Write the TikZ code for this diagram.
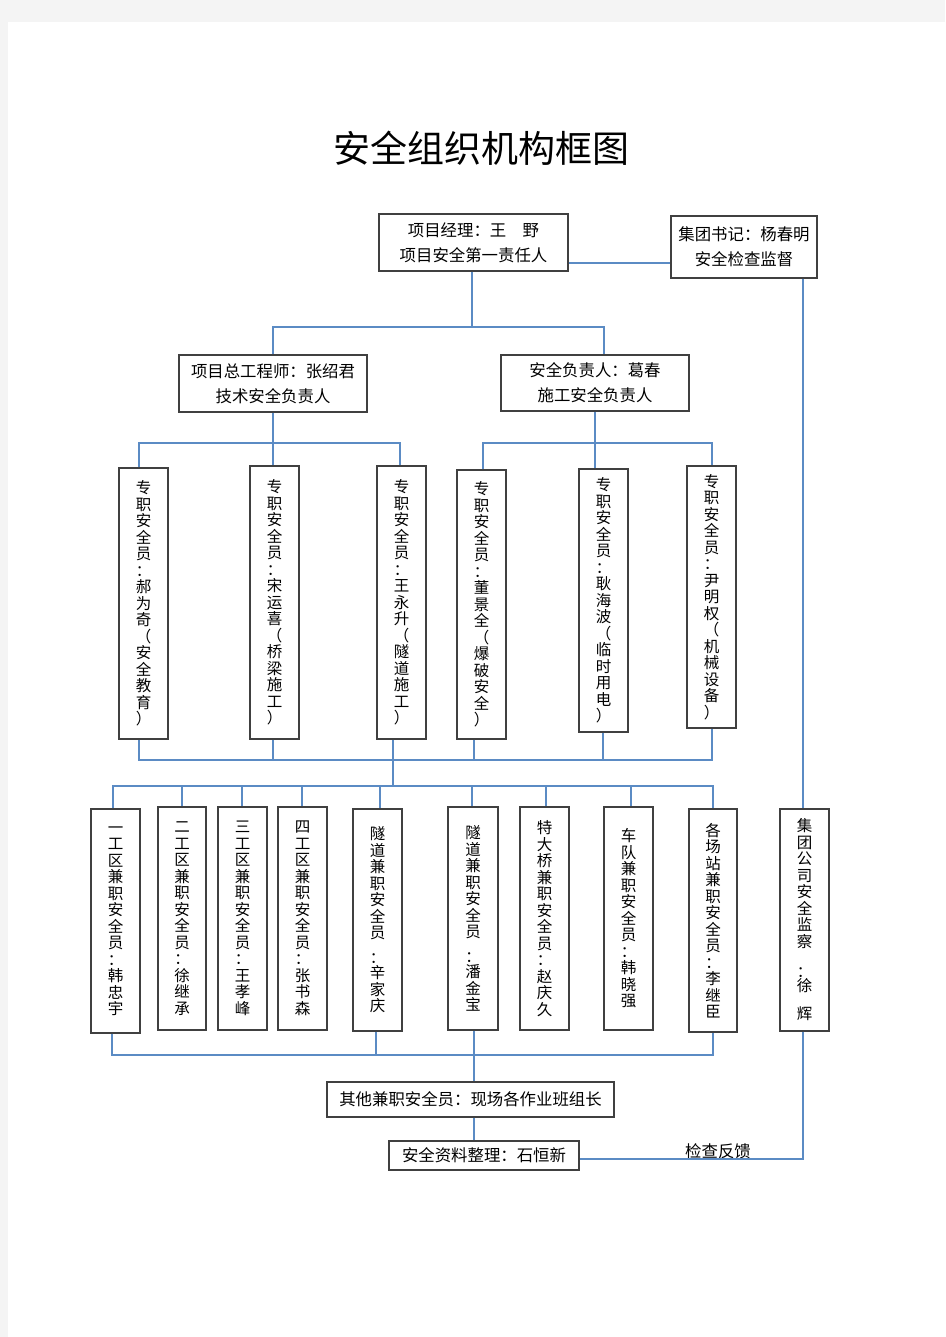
\documentclass[tikz,border=0pt]{standalone}
\usepackage{fontspec}
\setmainfont{Noto Sans CJK SC}
\usetikzlibrary{calc}
\definecolor{lnc}{RGB}{91,139,196}
\definecolor{bdc}{RGB}{64,64,64}
\definecolor{pg}{RGB}{244,244,244}
\newcommand{\bx}[7]{%
  \pgfmathsetmacro\bxw{#4-#2}\pgfmathsetmacro\bxh{#5-#3}%
  \node[#1, minimum width=\bxw pt, minimum height=\bxh pt] (#6) at ({(#2+#4)/2},{(#3+#5)/2}) {#7};}
\begin{document}
\begin{tikzpicture}[x=1pt,y=-1pt,
  hbox/.style={draw=bdc, line width=1.4pt, fill=white, inner sep=0pt, align=center, font=\fontsize{16.4}{25}\selectfont},
  vbox/.style={draw=bdc, line width=1.4pt, fill=white, inner sep=0pt, align=center, font=\fontsize{15.5}{16.5}\selectfont},
  conn/.style={draw=lnc, line width=1.3pt},
  lbl/.style={inner sep=0pt, font=\fontsize{16.4}{16.4}\selectfont}]
\fill[pg] (0,0) rectangle (945,1337);
\fill[white] (8,22) rectangle (945,1337);
\useasboundingbox (0,0) rectangle (945,1337);

\node[inner sep=0pt, font=\fontsize{37}{37}\selectfont] (title) at (481,148) {安全组织机构框图};

% top boxes
\bx{hbox}{379}{214}{568}{271}{pm}{项目经理：王　野\\项目安全第一责任人}
\bx{hbox}{671}{216}{817}{278}{sec}{集团书记：杨春明\\安全检查监督}
\bx{hbox}{179}{355}{367}{412}{cte}{项目总工程师：张绍君\\技术安全负责人}
\bx{hbox}{501}{355}{689}{411}{saf}{安全负责人：葛春\\施工安全负责人}

% row 1
\bx{vbox}{119}{468}{168}{739}{z1}{专\\职\\安\\全\\员\\：\\郝\\为\\奇\\（\\安\\全\\教\\育\\）}
\bx{vbox}{250}{466}{299}{739}{z2}{专\\职\\安\\全\\员\\：\\宋\\运\\喜\\（\\桥\\梁\\施\\工\\）}
\bx{vbox}{377}{466}{426}{739}{z3}{专\\职\\安\\全\\员\\：\\王\\永\\升\\（\\隧\\道\\施\\工\\）}
\bx{vbox}{457}{470}{506}{739}{z4}{专\\职\\安\\全\\员\\：\\董\\景\\全\\（\\爆\\破\\安\\全\\）}
\bx{vbox}{579}{469}{628}{732}{z5}{专\\职\\安\\全\\员\\：\\耿\\海\\波\\（\\临\\时\\用\\电\\）}
\bx{vbox}{687}{466}{736}{728}{z6}{专\\职\\安\\全\\员\\：\\尹\\明\\权\\（\\机\\械\\设\\备\\）}

% row 2
\bx{vbox}{91}{809}{140}{1033}{b1}{一\\工\\区\\兼\\职\\安\\全\\员\\：\\韩\\忠\\宇}
\bx{vbox}{158}{807}{206}{1030}{b2}{二\\工\\区\\兼\\职\\安\\全\\员\\：\\徐\\继\\承}
\bx{vbox}{218}{807}{267}{1030}{b3}{三\\工\\区\\兼\\职\\安\\全\\员\\：\\王\\孝\\峰}
\bx{vbox}{278}{807}{327}{1030}{b4}{四\\工\\区\\兼\\职\\安\\全\\员\\：\\张\\书\\森}
\bx{vbox}{353}{809}{402}{1031}{b5}{隧\\道\\兼\\职\\安\\全\\员\\[8pt]：\\[-1pt]辛\\家\\庆}
\bx{vbox}{448}{807}{498}{1030}{b6}{隧\\道\\兼\\职\\安\\全\\员\\[8pt]：\\[-1pt]潘\\金\\宝}
\bx{vbox}{520}{807}{569}{1030}{b7}{特\\大\\桥\\兼\\职\\安\\全\\员\\：\\赵\\庆\\久}
\bx{vbox}{604}{807}{653}{1030}{b8}{车\\队\\兼\\职\\安\\全\\员\\：\\韩\\晓\\强}
\bx{vbox}{689}{809}{737}{1032}{b9}{各\\场\\站\\兼\\职\\安\\全\\员\\：\\李\\继\\臣}
\bx{vbox}{780}{809}{829}{1031}{jt}{集\\团\\公\\司\\安\\全\\监\\察\\[14pt]：\\[-3pt]徐\\[12pt]辉}

% bottom boxes
\bx{hbox}{327}{1082}{614}{1117}{qt}{其他兼职安全员：现场各作业班组长}
\bx{hbox}{389}{1141}{579}{1170}{zl}{安全资料整理：石恒新}

\node[lbl] (fk) at (718,1151) {检查反馈};

% connectors: top
\coordinate (h) at (0,263);
\draw[conn] (pm.east |- h) -- (sec.west |- h);
\coordinate (t0) at (472,327);
\coordinate (t1) at (273,327);
\coordinate (t2) at (604,327);
\draw[conn] (t0 |- pm.south) -- (t0);
\draw[conn] (t1 |- cte.north) -- (t1) -- (t2) -- (t2 |- saf.north);

% row 1 buses
\coordinate (u1) at (139,443);
\coordinate (u2) at (400,443);
\coordinate (uc) at (273,443);
\draw[conn] (uc |- cte.south) -- (uc) -- (uc |- z2.north);
\draw[conn] (u1 |- z1.north) -- (u1) -- (u2) -- (u2 |- z3.north);
\coordinate (u3) at (483,443);
\coordinate (u4) at (712,443);
\coordinate (us) at (595,443);
\draw[conn] (us |- saf.south) -- (us) -- (us |- z5.north);
\draw[conn] (u3 |- z4.north) -- (u3) -- (u4) -- (u4 |- z6.north);

% row 1 collector
\coordinate (w1) at (139,760);
\coordinate (w2) at (712,760);
\draw[conn] (w1 |- z1.south) -- (w1) -- (w2) -- (w2 |- z6.south);
\coordinate (wz2) at (273,760);
\draw[conn] (wz2 |- z2.south) -- (wz2);
\coordinate (w3) at (393,786);
\draw[conn] (w3 |- z3.south) -- (w3);
\coordinate (w4) at (474,760);
\draw[conn] (w4 |- z4.south) -- (w4);
\coordinate (w5) at (603,760);
\draw[conn] (w5 |- z5.south) -- (w5);

% row 2 distribution
\coordinate (v1) at (113,786);
\coordinate (v2) at (713,786);
\draw[conn] (v1 |- b1.north) -- (v1) -- (v2) -- (v2 |- b9.north);
\foreach \b/\x in {b2/182,b3/242,b4/302,b5/380,b6/472,b7/546,b8/631}{
  \draw[conn] (\x,786) -- (\x,0 |- \b.north);
}

% row 2 collector
\coordinate (s1) at (112,1055);
\coordinate (s2) at (713,1055);
\draw[conn] (s1 |- b1.south) -- (s1) -- (s2) -- (s2 |- b9.south);
\coordinate (s5) at (376,1055);
\draw[conn] (s5 |- b5.south) -- (s5);
\coordinate (q) at (474,0);
\draw[conn] (q |- b6.south) -- (q |- qt.north);
\draw[conn] (q |- qt.south) -- (q |- zl.north);

% group supervision line
\coordinate (g) at (803,0);
\draw[conn] (g |- sec.south) -- (g |- jt.north);
\coordinate (fb) at (803,1159);
\draw[conn] (g |- jt.south) -- (fb) -- (fb -| zl.east);
\end{tikzpicture}
\end{document}
